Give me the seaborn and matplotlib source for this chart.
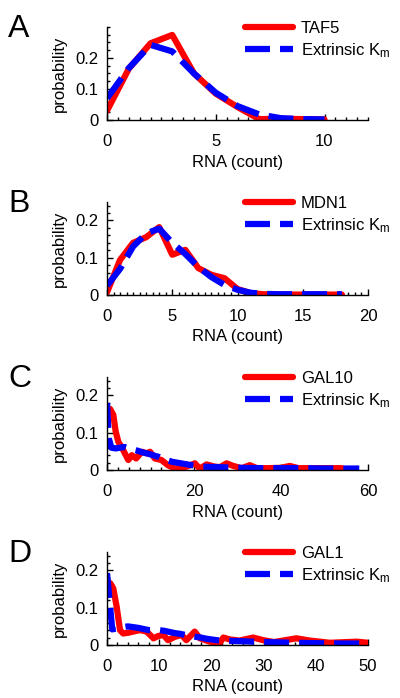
import matplotlib
matplotlib.use("Agg")
import matplotlib.pyplot as plt
import seaborn as sns
import pandas as pd
from matplotlib.ticker import MultipleLocator, FuncFormatter

sns.set_style("ticks")
plt.rcParams["font.family"] = ["Liberation Sans", "DejaVu Sans"]
plt.rcParams["mathtext.fontset"] = "custom"
plt.rcParams["mathtext.rm"] = "Liberation Sans"
plt.rcParams["mathtext.it"] = "Liberation Sans:italic"
for key in ["text.color", "axes.labelcolor", "xtick.color", "ytick.color", "axes.edgecolor"]:
    plt.rcParams[key] = "black"

# panel A: TAF5
taf5_x = [0, 1, 2, 3, 4, 5, 6, 7, 8, 9, 10]
taf5_y = [0.03, 0.165, 0.247, 0.274, 0.15, 0.085, 0.042, 0.003, 0.004, 0.003, 0.002]
ext_a_x = [0, 1, 2, 3, 4, 5, 6, 7, 8, 9, 10]
ext_a_y = [0.07, 0.167, 0.242, 0.221, 0.15, 0.088, 0.045, 0.018, 0.006, 0.003, 0.002]

# panel B: MDN1
mdn1_x = list(range(19))
mdn1_y = [0.007, 0.094, 0.14, 0.155, 0.182, 0.108, 0.121, 0.072, 0.054, 0.045, 0.016,
          0.005, 0.002, 0.001, 0.001, 0.001, 0.001, 0.001, 0.001]
ext_b_x = list(range(19))
ext_b_y = [0.025, 0.07, 0.13, 0.165, 0.178, 0.14, 0.11, 0.075, 0.048, 0.027, 0.014,
           0.006, 0.003, 0.002, 0.002, 0.002, 0.002, 0.002, 0.002]

# panel C: GAL10
gal10_x = [0, 0.7, 1.45, 2, 2.6, 3.7, 4.9, 5.7, 6.7, 8, 9.1, 9.9, 11, 12.5, 14, 15.6, 18.3,
           20.2, 21.3, 22.9, 24.8, 26, 27.5, 29, 31, 32.8, 34.5, 37, 40, 42, 44, 47, 50, 54]
gal10_y = [0.15, 0.164, 0.148, 0.103, 0.076, 0.054, 0.027, 0.04, 0.031, 0.049, 0.045, 0.049,
           0.031, 0.027, 0.013, 0.004, 0.009, 0.018, 0.004, 0.015, 0.009, 0.008, 0.018, 0.011,
           0.005, 0.013, 0.005, 0.005, 0.006, 0.011, 0.005, 0.005, 0.005, 0.005]
ext_c_x = [0, 0.4, 1, 2, 3, 4, 5, 6, 7, 8, 9, 10, 11, 12, 13, 14, 15, 16, 17, 18, 19, 20,
           22, 25, 30, 35, 40, 45, 50, 58]
ext_c_y = [0.18, 0.085, 0.06, 0.058, 0.06, 0.062, 0.058, 0.055, 0.052, 0.048, 0.045, 0.042,
           0.038, 0.035, 0.03, 0.026, 0.022, 0.02, 0.018, 0.016, 0.014, 0.012, 0.009, 0.008,
           0.006, 0.005, 0.005, 0.005, 0.004, 0.004]

# panel D: GAL1
gal1_x = [0, 0.6, 1.2, 1.85, 2.5, 3.1, 4.1, 5, 6.3, 7.6, 8.9, 9.8, 10.8, 11.7, 13, 14.3, 15.2,
          16.8, 17.8, 19.7, 21.6, 22.3, 23.5, 25.4, 28, 29.9, 32, 36.3, 38.8, 42.7, 47.8, 50]
gal1_y = [0.16, 0.166, 0.152, 0.103, 0.04, 0.031, 0.033, 0.036, 0.04, 0.036, 0.018, 0.024,
          0.027, 0.013, 0.022, 0.027, 0.013, 0.036, 0.018, 0.009, 0.006, 0.02, 0.015, 0.012,
          0.02, 0.013, 0.008, 0.018, 0.012, 0.006, 0.009, 0.006]
ext_d_x = [0, 1, 2, 3, 4, 5, 6, 7, 8, 9, 10, 11, 12, 13, 14, 15, 16, 17, 18, 19, 20, 21,
           22, 24, 26, 28, 30, 33, 36, 40, 45, 50]
ext_d_y = [0.193, 0.042, 0.045, 0.048, 0.05, 0.048, 0.046, 0.043, 0.04, 0.04, 0.04, 0.038,
           0.035, 0.032, 0.03, 0.027, 0.025, 0.022, 0.02, 0.017, 0.015, 0.013, 0.012, 0.011,
           0.01, 0.009, 0.008, 0.007, 0.006, 0.005, 0.004, 0.004]

panels = [
    ("A", "TAF5", taf5_x, taf5_y, ext_a_x, ext_a_y, 12, 5, 0.5, 0.3, 0.025),
    ("B", "MDN1", mdn1_x, mdn1_y, ext_b_x, ext_b_y, 20, 5, 0.5, 0.25, 0.02),
    ("C", "GAL10", gal10_x, gal10_y, ext_c_x, ext_c_y, 60, 20, 2.5, 0.25, 0.02),
    ("D", "GAL1", gal1_x, gal1_y, ext_d_x, ext_d_y, 50, 10, 2, 0.25, 0.02),
]
bottoms = [0.828, 0.5774, 0.3266, 0.0759]
height = 0.1335

fig = plt.figure(figsize=(4, 6.98), dpi=100)

for k, (letter, gene, gx, gy, ex, ey, xmax, xmaj, xmin_step, ymax, ymin_step) in enumerate(panels):
    ax = fig.add_axes([0.2675, bottoms[k], 0.6525, height])
    gene_df = pd.DataFrame({"count": gx, "prob": gy})
    ext_df = pd.DataFrame({"count": ex, "prob": ey})
    sns.lineplot(data=gene_df, x="count", y="prob", sort=False, estimator=None,
                 color="#ff0000", lw=4.5, label=gene, ax=ax)
    sns.lineplot(data=ext_df, x="count", y="prob", sort=False, estimator=None,
                 color="#0000ff", lw=4.5, linestyle=(0, (4, 1.6)),
                 label="Extrinsic K$_\\mathrm{m}$", ax=ax)
    ax.set_xlim(0, xmax)
    ax.set_ylim(0, ymax)
    ax.xaxis.set_major_locator(MultipleLocator(xmaj))
    ax.xaxis.set_minor_locator(MultipleLocator(xmin_step))
    ax.set_yticks([0, 0.1, 0.2])
    ax.yaxis.set_minor_locator(MultipleLocator(ymin_step))
    ax.yaxis.set_major_formatter(FuncFormatter(lambda v, p: "%g" % v))
    ax.tick_params(which="major", direction="in", length=4, width=1, labelsize=12)
    ax.tick_params(which="minor", direction="in", length=2, width=1)
    ax.tick_params(axis="x", which="major", pad=10)
    ax.tick_params(axis="y", which="major", pad=6)
    for side in ["top", "right"]:
        ax.spines[side].set_visible(False)
    for side in ["left", "bottom"]:
        ax.spines[side].set_linewidth(1.0)
    ax.set_xlabel("RNA (count)", fontsize=12)
    ax.set_ylabel("probability", fontsize=12)
    ax.xaxis.set_label_coords(0.5, -0.37)
    ax.yaxis.set_label_coords(-0.155, 0.5)
    ax.legend(loc="upper left", bbox_to_anchor=(0.529, 1.06), frameon=False,
              fontsize=12, handlelength=2.9, handletextpad=0.45, borderpad=0,
              borderaxespad=0, labelspacing=0.3)
    top_px = (1 - bottoms[k] - height) * 698
    fig.text(0.02, 1 - (top_px + 10) / 698, letter, fontsize=23, va="baseline", ha="left")

plt.savefig("out.png", dpi=100)
